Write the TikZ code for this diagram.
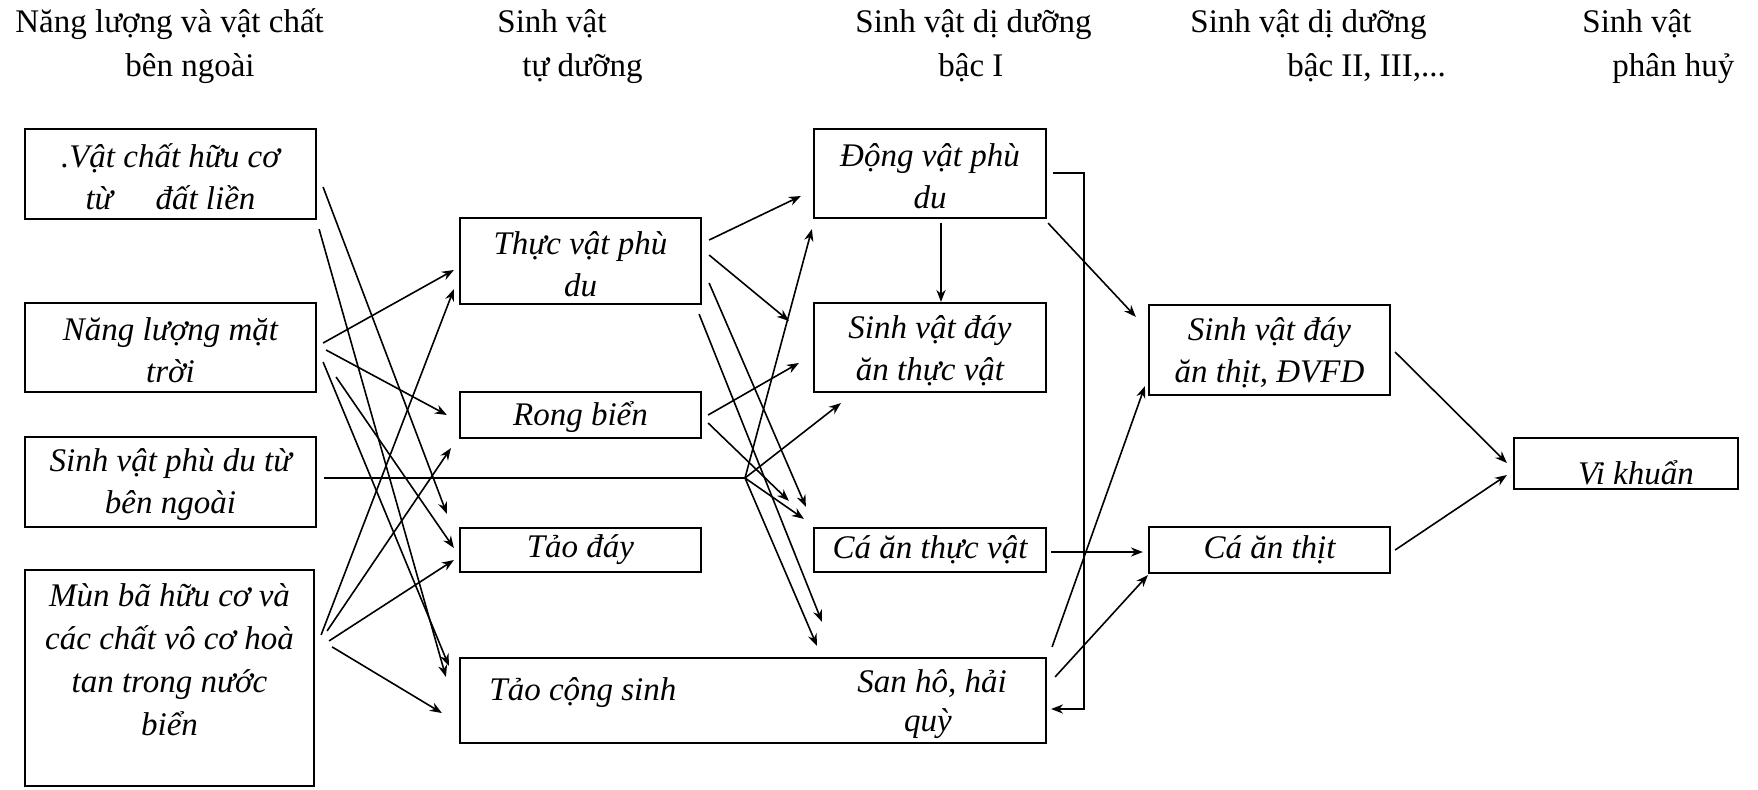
\documentclass[tikz,border=0pt]{standalone}
\usepackage{fontspec}
\setmainfont{Liberation Serif}
\usetikzlibrary{arrows.meta,calc}
\newcommand{\toprule}{\rule{0pt}{14.5pt}}
\begin{document}
\begin{tikzpicture}[x=0.5pt,y=-0.5pt,
 box/.style={draw, line width=1.1pt, inner sep=0pt, align=center, font=\itshape\fontsize{16.5}{21}\selectfont},
 txt/.style={inner sep=0pt, align=center, font=\itshape\fontsize{16.5}{21}\selectfont},
 hdr/.style={anchor=base west, inner sep=0pt, font=\fontsize{16.5}{20}\selectfont},
 arr/.style={line width=0.8pt, -{Stealth[length=6pt,width=4.6pt]}},
 ln/.style={line width=0.8pt}]
\useasboundingbox (0,0) rectangle (1758,789);

% headers
\node[hdr] (h1a) at (15,32) {Năng lượng và vật chất};
\node[hdr] (h1b) at (125,76) {bên ngoài};
\node[hdr] (h2a) at (497,32) {Sinh vật};
\node[hdr] (h2b) at (522,76) {tự dưỡng};
\node[hdr] (h3a) at (855,32) {Sinh vật dị dưỡng};
\node[hdr] (h3b) at (938,76) {bậc I};
\node[hdr] (h4a) at (1190,32) {Sinh vật dị dưỡng};
\node[hdr] (h4b) at (1287,76) {bậc II, III,...};
\node[hdr] (h5a) at (1582,32) {Sinh vật};
\node[hdr] (h5b) at (1612,76) {phân huỷ};

% column 1
\node[box, minimum width=145.5pt, minimum height=45pt] (b1) at (170.5,174) {\toprule.Vật chất hữu cơ\\từ\hspace{1.3em}đất liền};
\node[box, minimum width=145.5pt, minimum height=44.5pt] (b2) at (170.5,347.5) {\toprule Năng lượng mặt\\trời};
\node[box, minimum width=145.5pt, minimum height=45pt] (b3) at (170.5,482) {\toprule Sinh vật phù du từ\\bên ngoài};
\node[box, minimum width=144.5pt, minimum height=108pt] (b4) at (169.5,678) {};
\node[txt, anchor=north, font=\itshape\fontsize{16.5}{21.5}\selectfont] (b4t) at (169.5,583) {Mùn bã hữu cơ và\\các chất vô cơ hoà\\tan trong nước\\biển};

% column 2
\node[box, minimum width=120.5pt, minimum height=43pt] (tvpd) at (580.5,261) {\toprule Thực vật phù\\du};
\node[box, minimum width=120.5pt, minimum height=23pt] (rb) at (580.5,415) {\toprule Rong biển};
\node[box, minimum width=120.5pt, minimum height=22pt] (td) at (580.5,550) {Tảo đáy};
\node[box, minimum width=293pt, minimum height=42.5pt] (tcs) at (753,700.5) {};
\node[txt, anchor=base west] (tcst) at (489,700) {Tảo cộng sinh};
\node[txt, anchor=base] (shh) at (932,692) {San hô, hải};
\node[txt, anchor=base] (shq) at (928,731) {quỳ};

% column 3
\node[box, minimum width=116pt, minimum height=44.5pt] (dvpd) at (930,173.5) {\toprule Động vật phù\\du};
\node[box, minimum width=116pt, minimum height=44.5pt] (svdatv) at (930,347.5) {\toprule Sinh vật đáy\\ăn thực vật};
\node[box, minimum width=116pt, minimum height=22pt] (catv) at (930,550) {Cá ăn thực vật};

% column 4
\node[box, minimum width=120.5pt, minimum height=45pt] (svdat) at (1269.5,350) {\toprule Sinh vật đáy\\ăn thịt, ĐVFD};
\node[box, minimum width=120.5pt, minimum height=23pt] (cat) at (1269.5,550) {Cá ăn thịt};

% column 5
\node[box, minimum width=112pt, minimum height=25.5pt] (vk) at (1626,463.5) {};
\node[txt, anchor=base] (vkt) at (1636,484) {Vi khuẩn};

% left arrows
\draw[arr] ($(b1.east)+(6,13)$) -- ($(td.north west)+(-12,-13)$);
\draw[arr] ($(b1.south east)+(2,9)$) -- ($(tcs.north west)+(-13,20)$);
\draw[arr] ($(b2.east)+(6,-4.5)$) -- ($(tvpd.west)+(-5,9)$);
\draw[arr] ($(b2.east)+(9,2.5)$) -- ($(rb.west)+(-12,0)$);
\draw[arr] ($(b2.east)+(6,14.5)$) -- ($(tcs.north west)+(-10,9)$);
\draw[arr] ($(b2.east)+(19,29.5)$) -- ($(td.west)+(-5,-2)$);
\draw[arr] ($(b4.north east)+(6,66)$) -- ($(tvpd.south west)+(-5,-16)$);
\draw[arr] ($(b4.north east)+(12,62)$) -- ($(rb.south west)+(-8,9)$);
\draw[arr] ($(b4.north east)+(14,72)$) -- ($(td.west)+(-5,10)$);
\draw[arr] ($(b4.north east)+(17,78)$) -- ($(tcs.west)+(-17,12.5)$);

% plankton from outside, via junction
\coordinate (j) at (745,478);
\draw[ln] ($(b3.east)+(7,-4)$) -- (j);
\draw[arr] (j) -- ($(dvpd.south west)+(-1,10)$);
\draw[arr] (j) -- ($(svdatv.south west)+(28,10)$);
\draw[arr] (j) -- ($(catv.north west)+(-9,-8)$);
\draw[arr] (j) -- ($(tcs.north)+(64,-11)$);

% middle arrows
\draw[arr] ($(tvpd.east)+(7,-21)$) -- ($(dvpd.west)+(-12,22.5)$);
\draw[arr] ($(tvpd.east)+(7,-6)$) -- ($(svdatv.north west)+(-24,19)$);
\draw[arr] ($(tvpd.east)+(7,22)$) -- ($(catv.north west)+(-7,-20)$);
\draw[arr] ($(tvpd.south east)+(-3,9)$) -- ($(tcs.north)+(69,-35)$);
\draw[arr] ($(rb.east)+(6,0)$) -- ($(svdatv.west)+(-14,15.5)$);
\draw[arr] ($(rb.east)+(6,8)$) -- ($(catv.north west)+(-24,-26)$);

% right arrows
\draw[arr] ($(dvpd.east)+(6,-0.5)$) -- ++(31,0) |- ($(tcs.east)+(4,8.5)$);
\draw[arr] ($(dvpd.south)+(11,4)$) -- ($(svdatv.north)+(11,0)$);
\draw[arr] ($(dvpd.south east)+(1,4)$) -- ($(svdat.north west)+(-12,13)$);
\draw[arr] ($(catv.east)+(4,2)$) -- ($(cat.west)+(-5,2)$);
\draw[arr] ($(tcs.north east)+(5,-10)$) -- ($(svdat.south west)+(-3,-10)$);
\draw[arr] ($(tcs.north east)+(8,20)$) -- ($(cat.south west)+(0,1)$);
\draw[arr] ($(svdat.east)+(4,2)$) -- ($(vk.west)+(-6,-0.5)$);
\draw[arr] ($(cat.east)+(4,0)$) -- ($(vk.west)+(-6,11.5)$);
\end{tikzpicture}
\end{document}
